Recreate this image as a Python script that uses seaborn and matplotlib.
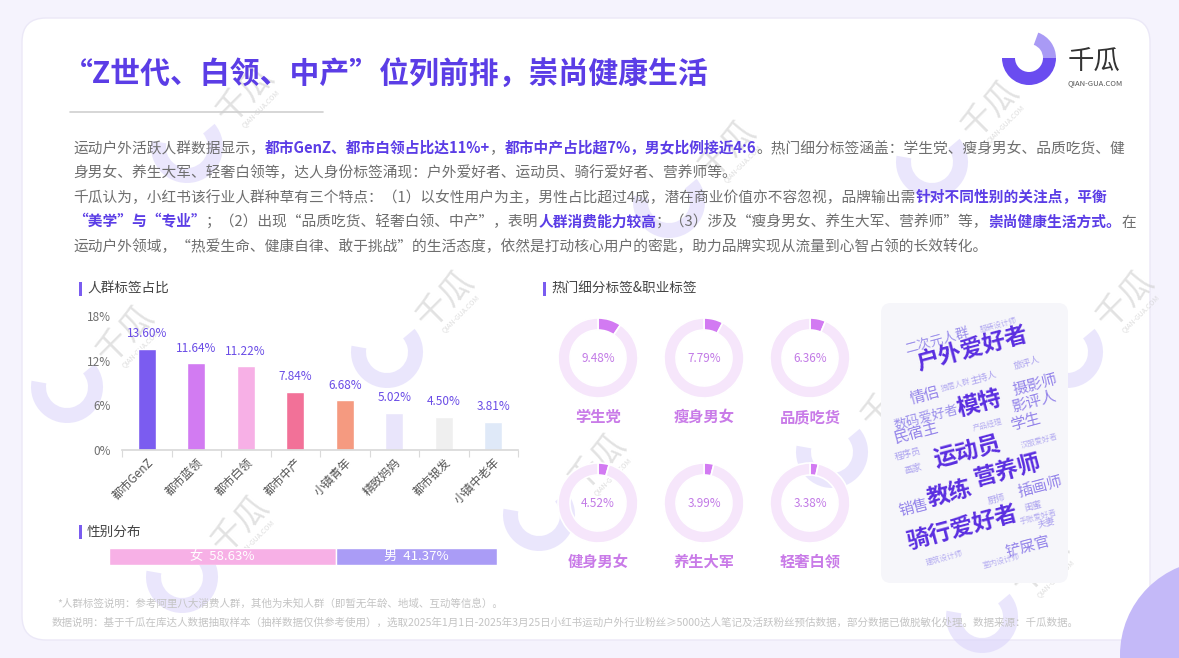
import matplotlib
matplotlib.use("Agg")
import numpy as np
import pandas as pd
import matplotlib.pyplot as plt
import seaborn as sns
from matplotlib.patches import FancyBboxPatch, Wedge, Rectangle, Circle

# ---- data ----
crowd_labels = ['都市GenZ', '都市蓝领', '都市白领', '都市中产', '小镇青年', '精致妈妈', '都市银发', '小镇中老年']
crowd_share = [13.60, 11.64, 11.22, 7.84, 6.68, 5.02, 4.50, 3.81]
crowd_colors = ['#7b5cf0', '#d27bf2', '#f7b0e6', '#f27198', '#f59a80', '#e9e5fb', '#efefef', '#dfe9f8']

tag_labels = ['学生党', '瘦身男女', '品质吃货', '健身男女', '养生大军', '轻奢白领']
tag_share = [9.48, 7.79, 6.36, 4.52, 3.99, 3.38]

gender_labels = ['女', '男']
gender_share = [58.63, 41.37]
gender_colors = ['#f7b0e6', '#aa9cf6']

cloud_words = ['户外爱好者', '运动员', '营养师', '骑行爱好者', '模特', '教练',
               '摄影师', '影评人', '学生', '情侣', '插画师', '铲屎官', '民宿主', '销售',
               '二次元人群', '数码爱好者',
               '闺蜜', '夫妻', '主持人', '旅评人', '程序员', '画家', '厨师',
               '服装设计师', '独居人群', '产品经理', '汉服爱好者', '手账爱好者', '建筑设计师', '室内设计师']
cloud_weight = [5, 5, 5, 5, 5, 5,
                4, 4, 4, 4, 4, 4, 4, 4,
                3, 3,
                2, 2, 2, 2, 2, 2, 2,
                1, 1, 1, 1, 1, 1, 1]

# ---- layout (pixel positions) ----
W, H = 1179, 658
cloud_pos = [(972, 349), (967, 451), (1008, 471), (963, 528), (979, 404), (949, 494),
             (1035, 385), (1034, 402), (1025, 422), (925, 396), (1040, 487), (1028, 547), (917, 433), (914, 508),
             (937, 341), (926, 418),
             (1033, 506), (1046, 523), (984, 378), (1027, 363), (908, 454), (913, 469), (996, 499),
             (998, 325), (956, 385), (988, 425), (1039, 441), (1038, 517), (944, 558), (1001, 561)]
cloud_size = {5: 16.5, 4: 11, 3: 9.5, 2: 6.5, 1: 5.5}
cloud_color = {5: '#5a2ee0', 4: '#9484ea', 3: '#9b8feb', 2: '#aaa0ef', 1: '#b6aef1'}
donut_centers = [(598, 358), (704, 358), (810, 358), (598, 503), (704, 503), (810, 503)]

sns.set_theme(style="white")
plt.rcParams['font.family'] = ['Noto Sans CJK SC', 'DejaVu Sans']
plt.rcParams['axes.unicode_minus'] = False

PURPLE = '#5b3de6'
TXT = '#6e6e6e'

fig = plt.figure(figsize=(W / 100, H / 100), dpi=100)
fig.patch.set_facecolor('#f5f3fd')
bg = fig.add_axes([0, 0, 1, 1])
bg.set_xlim(0, W)
bg.set_ylim(H, 0)
bg.axis('off')

# card
bg.add_patch(FancyBboxPatch((22, 18), 1128, 622, boxstyle='round,pad=0,rounding_size=24',
                            fc='white', ec='#ebe8f7', lw=1, zorder=0))
bg.add_patch(Circle((1215, 655), 95, fc='#c4b9f8', ec='none', zorder=0.2))

# watermarks
wm_spots = [(245, 95), (727, 150), (990, 110), (125, 335), (445, 300), (1125, 300),
            (890, 400), (240, 525), (597, 463), (1040, 565)]
for x, y in wm_spots:
    bg.add_patch(Wedge((x - 58, y + 52), 36, -40, 190, width=15, fc='#d9d2fb', ec='none', alpha=0.55, zorder=0.3))
    bg.text(x, y, '千瓜', rotation=45, fontsize=24, color='#cfcfcf', alpha=0.6, ha='center', va='center', zorder=0.4)
    bg.text(x + 16, y + 14, 'QIAN-GUA.COM', rotation=45, fontsize=5, color='#cfcfcf', alpha=0.7,
            ha='center', va='center', zorder=0.4)

# title
bg.text(63, 74, '“Z世代、白领、中产”位列前排，崇尚健康生活', fontsize=21.5, weight='bold',
        color=PURPLE, ha='left', va='center')
bg.plot([70, 323], [112, 112], color='#cfcfcf', lw=1.2)

# logo
bg.add_patch(Wedge((1029, 58), 27, 0, 180, width=13, fc='#6a4cf0', ec='none'))
bg.add_patch(Wedge((1029, 58), 27, 290, 360, width=13, fc='#a99af5', ec='none'))
bg.text(1068, 61, '千瓜', fontsize=19, color='#333333', ha='left', va='center')
bg.text(1068, 83, 'QIAN-GUA.COM', fontsize=5.5, color='#555555', ha='left', va='center')

# paragraph with highlighted runs
renderer = fig.canvas.get_renderer()


def seg_width(s, size, weight):
    a = bg.text(0, 0, s + '中', fontsize=size, weight=weight)
    b = bg.text(0, 0, '中', fontsize=size, weight=weight)
    w = a.get_window_extent(renderer).width - b.get_window_extent(renderer).width
    a.remove()
    b.remove()
    return w


def draw_runs(x, y, runs, size=10.6):
    for s, hi in runs:
        weight = 'bold' if hi else 'normal'
        bg.text(x, y, s, fontsize=size, weight=weight, color=PURPLE if hi else TXT,
                ha='left', va='baseline')
        x += seg_width(s, size, weight)


para = [
    [('运动户外活跃人群数据显示，', 0), ('都市GenZ、都市白领占比达11%+', 1), ('，', 0),
     ('都市中产占比超7%，男女比例接近4:6', 1), ('。热门细分标签涵盖：学生党、瘦身男女、品质吃货、健', 0)],
    [('身男女、养生大军、轻奢白领等，达人身份标签涌现：户外爱好者、运动员、骑行爱好者、营养师等。', 0)],
    [('千瓜认为，小红书该行业人群种草有三个特点：（1）以女性用户为主，男性占比超过4成，潜在商业价值亦不容忽视，品牌输出需', 0),
     ('针对不同性别的关注点，平衡', 1)],
    [('“美学”与“专业”', 1), ('；（2）出现“品质吃货、轻奢白领、中产”，表明', 0), ('人群消费能力较高', 1),
     ('；（3）涉及“瘦身男女、养生大军、营养师”等，', 0), ('崇尚健康生活方式。', 1), ('在', 0)],
    [('运动户外领域，“热爱生命、健康自律、敢于挑战”的生活态度，依然是打动核心用户的密匙，助力品牌实现从流量到心智占领的长效转化。', 0)],
]
for i, runs in enumerate(para):
    draw_runs(73, 153 + i * 24.5, runs)


def header(x, y, text):
    bg.add_patch(Rectangle((x, y - 7), 3, 14, fc='#7a5cf0', ec='none'))
    bg.text(x + 8, y, text, fontsize=9.8, color='#444444', ha='left', va='center')


header(79, 289, '人群标签占比')
header(543, 289, '热门细分标签&职业标签')
header(79, 532, '性别分布')

# bar chart
ax = fig.add_axes([122 / W, 1 - 450 / H, 396 / W, 134 / H])
df = pd.DataFrame({'label': crowd_labels, 'share': crowd_share})
sns.barplot(data=df, x='label', y='share', hue='label', palette=crowd_colors, saturation=1,
            width=0.36, legend=False, ax=ax)
ax.set_facecolor('none')
ax.set_ylim(0, 18)
ax.set_xlim(-0.5, 7.5)
ax.set_xlabel('')
ax.set_ylabel('')
ax.set_yticks([0, 6, 12, 18])
ax.set_yticklabels(['0%', '6%', '12%', '18%'])
ax.set_xticks(range(len(crowd_labels)))
ax.set_xticklabels(crowd_labels, rotation=45, ha='right', rotation_mode='anchor')
ax.set_xticks(np.arange(-0.5, len(crowd_labels), 1), minor=True)
for s in ['left', 'top', 'right']:
    ax.spines[s].set_visible(False)
ax.spines['bottom'].set_color('#dadada')
ax.tick_params(axis='y', length=0, pad=8, labelsize=8.5, labelcolor='#707070')
ax.tick_params(axis='x', which='major', length=0, pad=4, labelsize=8.5, labelcolor='#555555')
ax.tick_params(axis='x', which='minor', bottom=True, length=5, width=0.8, color='#dadada')
ax.grid(False)
for i, v in enumerate(crowd_share):
    ax.annotate(f'{v:.2f}%', (i, v), xytext=(0, 6), textcoords='offset points',
                ha='center', va='bottom', fontsize=8.5, color='#6a4ce6')

# gender bar
gax = fig.add_axes([109 / W, 1 - 565 / H, 388 / W, 17 / H])
lefts = np.concatenate([[0], np.cumsum(gender_share)[:-1]])
gax.barh(0, gender_share, left=lefts, height=1, color=gender_colors)
gax.set_xlim(0, 100)
gax.set_ylim(-0.5, 0.5)
gax.axis('off')
for lab, v, l in zip(gender_labels, gender_share, lefts):
    gax.text(l + v / 2, 0, f'{lab}  {v:.2f}%', ha='center', va='center', color='white', fontsize=9.5)

# donuts
for (cx, cy), lab, v in zip(donut_centers, tag_labels, tag_share):
    dax = fig.add_axes([(cx - 42) / W, 1 - (cy + 42) / H, 84 / W, 84 / H])
    dax.pie([v, 100 - v], colors=['#d27af2', '#f6e6fb'], startangle=90, counterclock=False,
            radius=1, wedgeprops=dict(width=0.3, edgecolor='white', linewidth=1.2))
    dax.set_xlim(-1.05, 1.05)
    dax.set_ylim(-1.05, 1.05)
    dax.set_aspect('equal')
    dax.axis('off')
    dax.text(0, 0, f'{v:.2f}%', ha='center', va='center', fontsize=8.5, color='#c27ae6')
    bg.text(cx, cy + 59, lab, ha='center', va='center', fontsize=11, weight='bold', color='#c97be8')

# word cloud
bg.add_patch(FancyBboxPatch((881, 303), 187, 280, boxstyle='round,pad=0,rounding_size=10',
                            fc='#f6f6fa', ec='none', zorder=0.5))
for word, wt, (x, y) in zip(cloud_words, cloud_weight, cloud_pos):
    bg.text(x, y, word, rotation=15, ha='center', va='center', fontsize=cloud_size[wt],
            color=cloud_color[wt], weight='bold' if wt == 5 else 'normal', zorder=1)

# footnotes
bg.text(57, 603, '*人群标签说明：参考阿里八大消费人群，其他为未知人群（即暂无年龄、地域、互动等信息）。',
        fontsize=7.6, color='#c4c4c4', ha='left', va='center')
bg.text(52, 622, '数据说明：基于千瓜在库达人数据抽取样本（抽样数据仅供参考使用），选取2025年1月1日-2025年3月25日'
                 '小红书运动户外行业粉丝≥5000达人笔记及活跃粉丝预估数据，部分数据已做脱敏化处理。数据来源：千瓜数据。',
        fontsize=7.6, color='#c4c4c4', ha='left', va='center')

fig.savefig('out.png', dpi=100, facecolor=fig.get_facecolor())
